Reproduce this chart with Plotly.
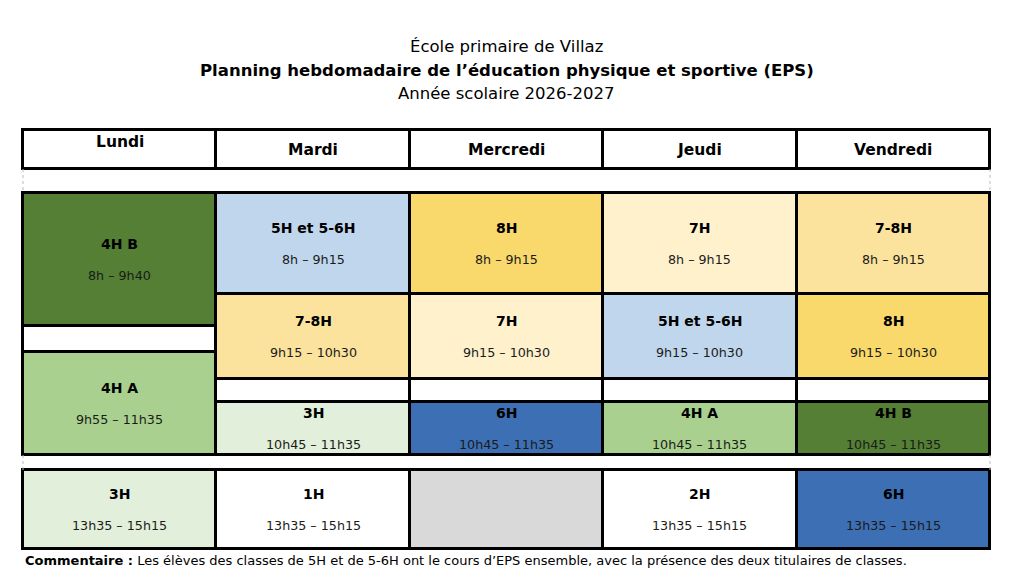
import plotly.graph_objects as go

# --- data -------------------------------------------------------------------
DAYS = ["Lundi", "Mardi", "Mercredi", "Jeudi", "Vendredi"]

# one entry per lesson block
LESSON_DAY = [0, 0, 0,
              1, 1, 1, 1,
              2, 2, 2, 2,
              3, 3, 3, 3,
              4, 4, 4, 4]
LESSON_CLASS = ["4H B", "4H A", "3H",
                "5H et 5-6H", "7-8H", "3H", "1H",
                "8H", "7H", "6H", "",
                "7H", "5H et 5-6H", "4H A", "2H",
                "7-8H", "8H", "4H B", "6H"]
LESSON_START = ["8h", "9h55", "13h35",
                "8h", "9h15", "10h45", "13h35",
                "8h", "9h15", "10h45", "13h35",
                "8h", "9h15", "10h45", "13h35",
                "8h", "9h15", "10h45", "13h35"]
LESSON_END = ["9h40", "11h35", "15h15",
              "9h15", "10h30", "11h35", "15h15",
              "9h15", "10h30", "11h35", "15h15",
              "9h15", "10h30", "11h35", "15h15",
              "9h15", "10h30", "11h35", "15h15"]

# recreation breaks (empty white cells)
BREAK_DAY = [0, 1, 2, 3, 4]
BREAK_START = ["9h40", "10h30", "10h30", "10h30", "10h30"]
BREAK_END = ["9h55", "10h45", "10h45", "10h45", "10h45"]

TITLE_LINES = ["École primaire de Villaz",
               "Planning hebdomadaire de l’éducation physique et sportive (EPS)",
               "Année scolaire 2026-2027"]
COMMENT = ("<b>Commentaire :</b> Les élèves des classes de 5H et de 5-6H ont le cours "
           "d’EPS ensemble, avec la présence des deux titulaires de classes.")

# --- style / layout ---------------------------------------------------------
CLASS_COLORS = {
    "4H B": "#547F34", "4H A": "#A9D08E", "3H": "#E2EFDA",
    "5H et 5-6H": "#C0D6EC", "8H": "#F9D96B", "7H": "#FEF1CC",
    "7-8H": "#FBE39D", "6H": "#3D6FB4", "1H": "#FFFFFF", "2H": "#FFFFFF",
    "": "#D9D9D9",
}
# vertical position of each time boundary in the table (not to scale)
ROW_Y = {"8h": 193, "9h15": 294, "9h40": 326, "9h55": 352, "10h30": 379,
         "10h45": 402, "11h35": 455, "13h35": 470, "15h15": 549}
HEADER_TOP, HEADER_BOTTOM = 130, 169
FONT = "DejaVu Sans"
W, H = 1024, 586
LEFT_PX, RIGHT_PX = 23, 990

fig = go.Figure()

# header cells
fig.add_trace(go.Bar(
    x=list(range(len(DAYS))), base=[HEADER_TOP] * len(DAYS),
    y=[HEADER_BOTTOM - HEADER_TOP] * len(DAYS), width=1,
    marker=dict(color="white", line=dict(color="black", width=3)),
    hoverinfo="skip", showlegend=False))

# break cells
fig.add_trace(go.Bar(
    x=BREAK_DAY, base=[ROW_Y[s] for s in BREAK_START],
    y=[ROW_Y[e] - ROW_Y[s] for s, e in zip(BREAK_START, BREAK_END)], width=1,
    marker=dict(color="white", line=dict(color="black", width=3)),
    hoverinfo="skip", showlegend=False))

# lesson cells
fig.add_trace(go.Bar(
    x=LESSON_DAY, base=[ROW_Y[s] for s in LESSON_START],
    y=[ROW_Y[e] - ROW_Y[s] for s, e in zip(LESSON_START, LESSON_END)], width=1,
    marker=dict(color=[CLASS_COLORS[c] for c in LESSON_CLASS],
                line=dict(color="black", width=3)),
    hoverinfo="skip", showlegend=False))

# dotted side edges on the spacer rows
for top, bottom in [(HEADER_BOTTOM, ROW_Y["8h"]), (ROW_Y["11h35"], ROW_Y["13h35"])]:
    for xe in [-0.5, len(DAYS) - 0.5]:
        fig.add_trace(go.Scatter(x=[xe, xe], y=[top, bottom], mode="lines",
                                 line=dict(color="#BBBBBB", width=1, dash="dot"),
                                 hoverinfo="skip", showlegend=False))

# header labels (Lundi sits higher in the original)
for i, d in enumerate(DAYS):
    fig.add_annotation(x=i, y=(HEADER_TOP + HEADER_BOTTOM) / 2, text=f"<b>{d}</b>",
                       showarrow=False, yshift=8 if i == 0 else 0,
                       font=dict(family=FONT, size=15.5, color="black"))

# lesson labels
for d, c, s, e in zip(LESSON_DAY, LESSON_CLASS, LESSON_START, LESSON_END):
    if not c:
        continue
    mid = (ROW_Y[s] + ROW_Y[e]) / 2
    fig.add_annotation(x=d, y=mid, text=f"<b>{c}</b>", showarrow=False, yshift=16,
                       font=dict(family=FONT, size=14, color="black"))
    fig.add_annotation(x=d, y=mid, text=f"{s} – {e}", showarrow=False, yshift=-16,
                       font=dict(family=FONT, size=12.7, color="#1a1a1a"))

# titles
for k, (line, ypx) in enumerate(zip(TITLE_LINES, [46, 70, 94])):
    fig.add_annotation(xref="paper", yref="paper", x=0.495, y=1 - ypx / H,
                       yanchor="middle",
                       text=f"<b>{line}</b>" if k == 1 else line, showarrow=False,
                       font=dict(family=FONT, size=16.5, color="black"))

fig.add_annotation(xref="paper", yref="paper", x=LEFT_PX / W, y=1 - 560 / H,
                   xanchor="left", yanchor="middle", text=COMMENT, showarrow=False,
                   font=dict(family=FONT, size=13, color="black"))

unit = (RIGHT_PX - LEFT_PX) / len(DAYS)
fig.update_layout(
    width=W, height=H, margin=dict(l=0, r=0, t=0, b=0),
    barmode="overlay", bargap=0,
    plot_bgcolor="white", paper_bgcolor="white",
    xaxis=dict(range=[-0.5 - LEFT_PX / unit, len(DAYS) - 0.5 + (W - RIGHT_PX) / unit],
               visible=False, fixedrange=True),
    yaxis=dict(range=[H, 0], visible=False, fixedrange=True),
)

# the page's default body margin would push the fixed-size figure off by 8px
fig.write_html("out.html", config={"displayModeBar": False},
               post_script="document.body.style.margin = '0';")
